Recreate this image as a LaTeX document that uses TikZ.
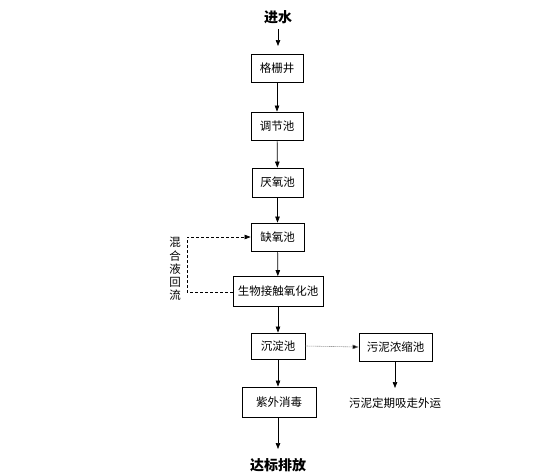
\documentclass[tikz,border=0pt]{standalone}
\usepackage{fontspec}
\setmainfont{Noto Sans CJK SC}
\usetikzlibrary{arrows.meta}
\begin{document}
\begin{tikzpicture}[x=1pt,y=-1pt,
  box/.style={draw=black,line width=0.8pt,inner sep=0pt,font=\fontsize{11.5}{12}\selectfont},
  title/.style={font=\fontsize{14}{15}\selectfont\bfseries},
  plain/.style={font=\fontsize{11.5}{12}\selectfont},
  flow/.style={line width=0.7pt,-{Triangle[length=6pt,width=4.5pt]}},
  dashflow/.style={line width=0.7pt,dash pattern=on 3pt off 2pt,-{Triangle[length=6pt,width=4.5pt]}},
  dotflow/.style={line width=0.6pt,draw=black!60,dash pattern=on 1pt off 1pt,-{Triangle[length=6pt,width=4.5pt,fill=black]}}]
\useasboundingbox (0,0) rectangle (560,474);
\node[title] (in) at (278,17) {进水};
\node[box,minimum width=52pt,minimum height=28pt] (b1) at (277,68) {格栅井};
\node[box,minimum width=52pt,minimum height=28pt] (b2) at (277,126) {调节池};
\node[box,minimum width=51pt,minimum height=29pt] (b3) at (277.5,182.5) {厌氧池};
\node[box,minimum width=53pt,minimum height=28pt] (b4) at (277.5,237) {缺氧池};
\node[box,minimum width=90pt,minimum height=30pt] (b5) at (278,291.5) {生物接触氧化池};
\node[box,minimum width=54pt,minimum height=26pt] (b6) at (278,346) {沉淀池};
\node[box,minimum width=73pt,minimum height=28pt] (b7) at (395.5,347) {污泥浓缩池};
\node[box,minimum width=74pt,minimum height=30pt] (b8) at (279,402) {紫外消毒};
\node[title] (out) at (278,465) {达标排放};
\node[plain] (sl) at (395,403) {污泥定期吸走外运};
\node[plain,align=center,inner sep=0pt] (rl) at (175,269) {混\\[1.2pt]合\\[1.2pt]液\\[1.2pt]回\\[1.2pt]流};
\coordinate (c1) at (187,292);
\coordinate (c2) at (187,237);
\coordinate (s1) at (395,388);
\coordinate (o1) at (278,449);
\coordinate (i1) at (278,46);
\draw[flow] (in.south) ++(0,2) -- (i1);
\draw[flow] (b1) -- (b2);
\draw[flow] (b2) -- (b3);
\draw[flow] (b3) -- (b4);
\draw[flow] (b4) -- (b5);
\draw[flow] (b5) -- (b6);
\draw[flow] (b6.south -| b8.north) ++(-1,0) -- (b8.north -| 278,0);
\draw[flow] (b8.south -| 278,0) -- (o1);
\draw[flow] (b7.south -| s1) -- (s1);
\draw[dotflow] (b6.east) -- (b7.west);
\draw[dashflow] (b5.west |- c1) -- (c1) -- (c2) -- (b4.west);
\end{tikzpicture}
\end{document}
